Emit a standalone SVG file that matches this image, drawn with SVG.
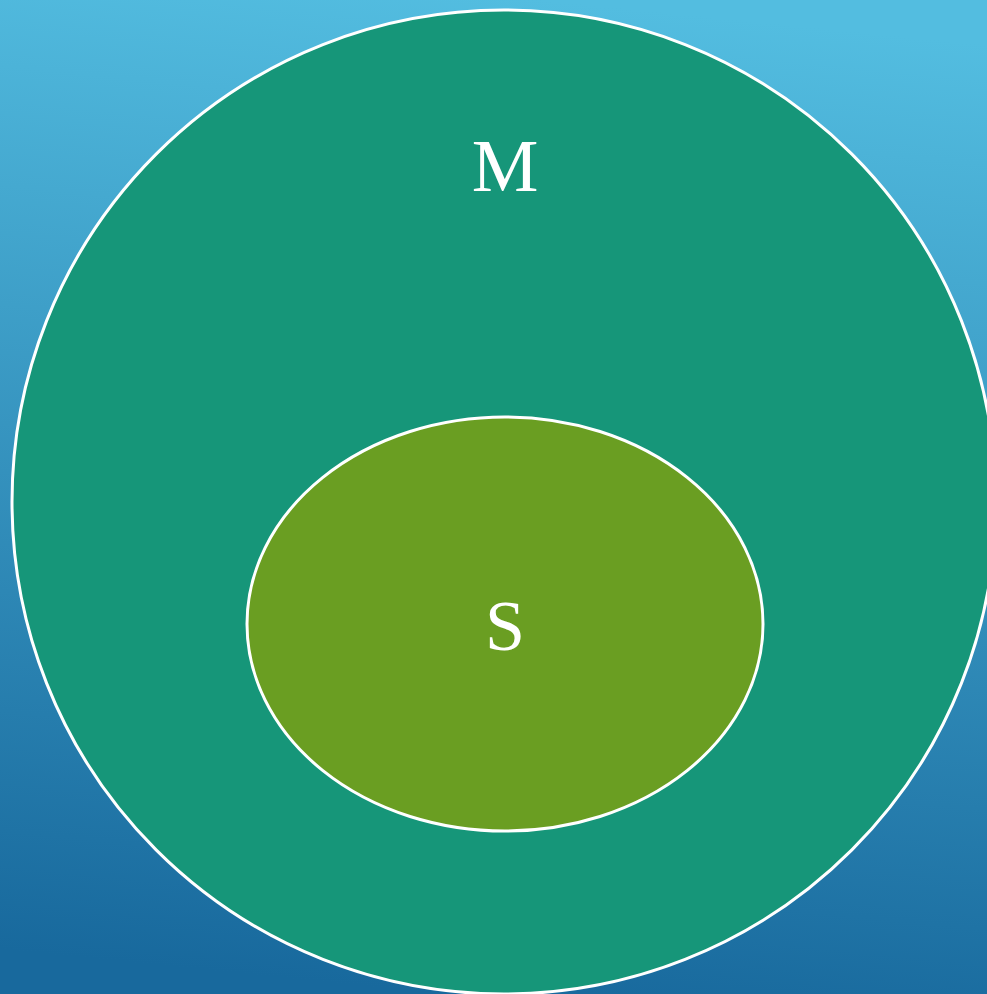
<svg xmlns="http://www.w3.org/2000/svg" width="987" height="994" viewBox="0 0 987 994">
<defs>
<linearGradient id="bg" x1="0.55" y1="0" x2="0.45" y2="1">
<stop offset="0" stop-color="#53bde0"/>
<stop offset="1" stop-color="#18699d"/>
</linearGradient>
<style>
.shape{stroke:#ffffff;stroke-width:3}
.lbl{font-family:"Liberation Serif","Times New Roman",serif;fill:#ffffff;text-anchor:middle}
</style>
</defs>
<rect width="987" height="994" fill="url(#bg)"/>
<g id="M">
<circle class="shape" cx="504" cy="502" r="492" fill="#169679"/>
<text class="lbl" x="505" y="191" font-size="75">M</text>
</g>
<g id="S">
<ellipse class="shape" cx="505" cy="624" rx="258" ry="207" fill="#6a9e22"/>
<text class="lbl" x="505" y="650" font-size="72">S</text>
</g>
<g id="connectors"/>
</svg>
